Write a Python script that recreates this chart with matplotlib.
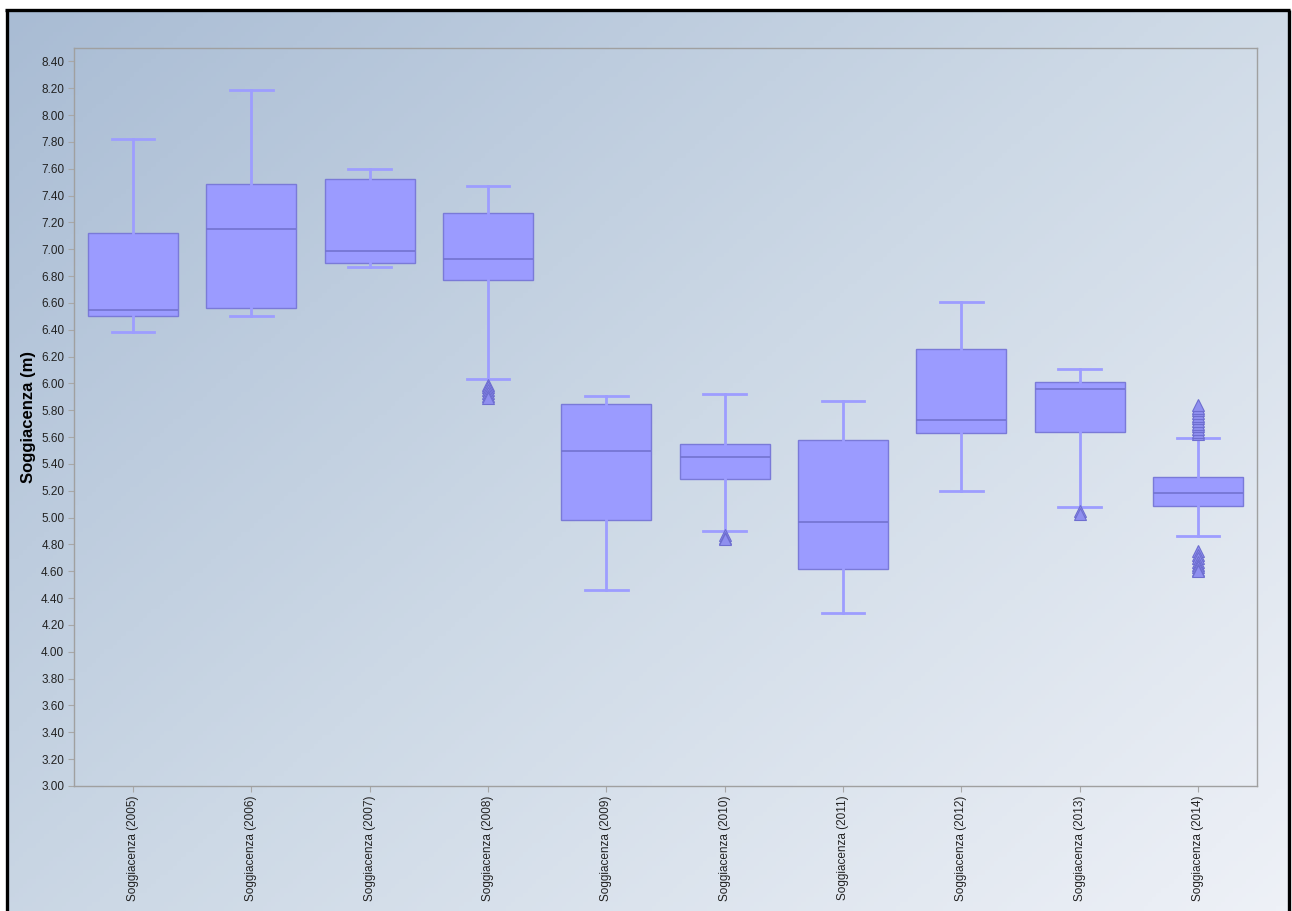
import numpy as np
import matplotlib
matplotlib.use("Agg")
import matplotlib.pyplot as plt
from matplotlib.colors import LinearSegmentedColormap
from matplotlib.patches import Rectangle
from matplotlib.lines import Line2D

plt.rcParams['font.family'] = ['Liberation Sans', 'DejaVu Sans']

labels = ["Soggiacenza (2005)", "Soggiacenza (2006)", "Soggiacenza (2007)", "Soggiacenza (2008)",
          "Soggiacenza (2009)", "Soggiacenza (2010)", "Soggiacenza (2011)", "Soggiacenza (2012)",
          "Soggiacenza (2013)", "Soggiacenza (2014)"]
whisker_low = [6.38, 6.50, 6.87, 6.03, 4.46, 4.90, 4.29, 5.20, 5.08, 4.86]
q1 =          [6.50, 6.56, 6.90, 6.77, 4.98, 5.29, 4.62, 5.63, 5.64, 5.09]
median =      [6.55, 7.15, 6.99, 6.93, 5.50, 5.45, 4.97, 5.73, 5.96, 5.18]
q3 =          [7.12, 7.49, 7.52, 7.27, 5.85, 5.55, 5.58, 6.26, 6.01, 5.30]
whisker_high = [7.82, 8.19, 7.60, 7.47, 5.91, 5.92, 5.87, 6.61, 6.11, 5.59]
outliers = [
    [],
    [],
    [],
    [5.99, 5.97, 5.95, 5.93, 5.91, 5.89],
    [],
    [4.87, 4.85, 4.84],
    [],
    [],
    [5.05, 5.03],
    [4.75, 4.72, 4.70, 4.67, 4.65, 4.63, 4.61, 4.60,
     5.62, 5.64, 5.66, 5.68, 5.70, 5.72, 5.74, 5.76, 5.78, 5.80, 5.82, 5.84],
]
yticks = np.round(np.arange(3.0, 8.41, 0.2), 2)

W, H = 1292, 911
fig = plt.figure(figsize=(W / 100, H / 100), dpi=100, facecolor='white')

# gradient background inside the frame
bg = fig.add_axes([6 / W, 0, (1289 - 6) / W, 1 - 9 / H], zorder=-10)
bg.set_axis_off()
yy, xx = np.mgrid[0:1:200j, 0:1:300j]
t = (xx * 0.55 + yy * 0.45)
cmap = LinearSegmentedColormap.from_list("bg", [(0.0, "#a9bcd4"), (0.5, "#cdd9e6"), (1.0, "#eef1f7")])
bg.imshow(t, cmap=cmap, aspect='auto', extent=[0, 1, 1, 0], origin='upper')
bg.set_xlim(0, 1); bg.set_ylim(1, 0)

# black frame (left, top, right)
tf = fig.transFigure
for xs, ys in [([6.5 / W, 6.5 / W], [0, 1 - 9.5 / H]),
               ([5 / W, 1290 / W], [1 - 9.5 / H, 1 - 9.5 / H]),
               ([1288.5 / W, 1288.5 / W], [1 - 9.5 / H, 0])]:
    fig.add_artist(Line2D(xs, ys, transform=tf, color='black', lw=2.4, solid_capstyle='butt'))

ax = fig.add_axes([74 / W, 1 - 786 / H, (1257 - 74) / W, (786 - 48) / H])
ax.patch.set_alpha(0)

stats = []
for i in range(len(labels)):
    stats.append(dict(whislo=whisker_low[i], q1=q1[i], med=median[i], q3=q3[i],
                      whishi=whisker_high[i], fliers=outliers[i], label=labels[i]))

face = "#9b9bff"
edge = "#7a7ad8"
wc = "#9d9dff"
positions = np.arange(len(labels)) + 0.5
ax.bxp(stats, positions=positions, widths=0.76, patch_artist=True,
       boxprops=dict(facecolor=face, edgecolor=edge, linewidth=1.0),
       medianprops=dict(color="#7373d0", linewidth=1.2),
       whiskerprops=dict(color=wc, linewidth=2.0),
       capprops=dict(color=wc, linewidth=2.0),
       capwidths=0.36,
       flierprops=dict(marker='^', markerfacecolor="#8f8fef", markeredgecolor="#6e6ed0",
                       markersize=8, markeredgewidth=0.8, linestyle='none'),
       manage_ticks=False)

ax.set_xlim(0, len(labels))
ax.set_ylim(3.0, 8.5)
ax.set_yticks(yticks)
ax.set_yticklabels([f"{v:.2f}" for v in yticks], fontsize=8.5, color="#222222")
ax.set_xticks(positions)
ax.set_xticklabels(labels, rotation=90, fontsize=8.5, color="#222222", va='top')
ax.tick_params(axis='both', direction='out', length=4, color="#a8a8a8", width=0.8, pad=3)
for s in ax.spines.values():
    s.set_color("#a0a0a0")
    s.set_linewidth(1.0)
ax.set_ylabel("Soggiacenza (m)", fontsize=12, fontweight='bold', labelpad=4)

fig.savefig("out.png", dpi=100, facecolor='white')
